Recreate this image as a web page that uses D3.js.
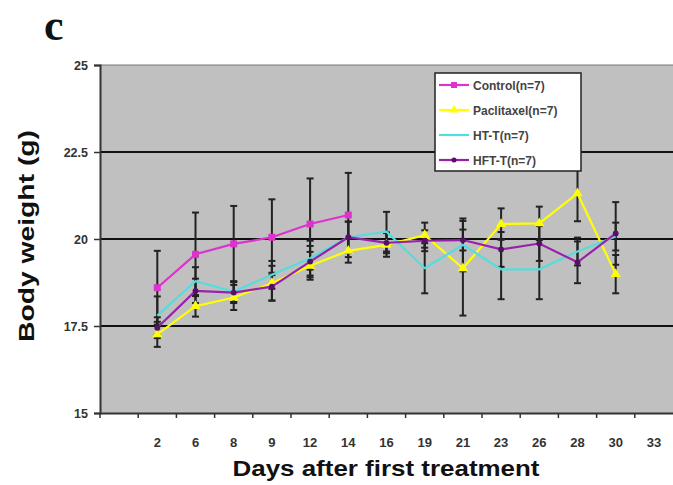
<!DOCTYPE html>
<html>
<head>
<meta charset="utf-8">
<script src="https://cdn.jsdelivr.net/npm/d3@7"></script>
<style>
  body { margin: 0; background: #fff; }
  svg { display: block; }
  .tick-label { font-family: "Liberation Sans", Arial, sans-serif; font-weight: bold; fill: #333; }
</style>
</head>
<body>
<div id="chart"></div>
<script>
// categories (first band is empty in the original)
const days = ['2','6','8','9','12','14','16','19','21','23','26','28','30','33'];
const yTicks = [15, 17.5, 20, 22.5, 25];

// means per day (null = no point)
const control    = [18.60, 19.56, 19.86, 20.05, 20.43, 20.69, null, null, null, null, null, null, null, null];
const paclitaxel = [17.26, 18.07, 18.32, 18.73, 19.23, 19.66, 19.83, 20.11, 19.16, 20.43, 20.45, 21.31, 18.99, null];
const htt        = [17.80, 18.79, 18.49, 18.97, 19.45, 20.05, 20.21, 19.16, 19.83, 19.13, 19.13, 19.64, 20.07, null];
const hftt       = [17.45, 18.51, 18.46, 18.63, 19.35, 20.05, 19.89, 19.95, 19.97, 19.70, 19.87, 19.33, 20.16, null];

// error (SD) per day
const controlSd    = [1.06, 1.20, 1.09, 1.09, 1.31, 1.21, null, null, null, null, null, null, null, null];
const paclitaxelSd = [0.36, 0.30, 0.36, 0.50, 0.40, 0.34, 0.34, 0.36, 1.36, 0.45, 0.48, 0.80, 0.55, null];
const httSd        = [0.55, 0.40, 0.30, 0.40, 0.50, 0.45, 0.57, 0.72, 0.76, 0.86, 0.86, 0.40, 0.40, null];
const hfttSd       = [0.30, 0.35, 0.30, 0.40, 0.45, 0.45, 0.30, 0.30, 0.30, 0.50, 0.50, 0.60, 0.90, null];

const series = [
  {name: 'Control(n=7)',    values: control,    sd: controlSd,    color: '#dd33cc', marker: 'square'},
  {name: 'Paclitaxel(n=7)', values: paclitaxel, sd: paclitaxelSd, color: '#ffff00', marker: 'triangle'},
  {name: 'HT-T(n=7)',       values: htt,        sd: httSd,        color: '#55dddd', marker: 'none'},
  {name: 'HFT-T(n=7)',      values: hftt,       sd: hfttSd,       color: '#9922aa', marker: 'dot'}
];

const W = 673, H = 485;
const margin = {t: 65, r: 0, b: 72, l: 100};
const w = W - margin.l - margin.r;
const h = H - margin.t - margin.b;

const svg = d3.select('#chart').append('svg')
  .attr('width', W)
  .attr('height', H);

const plot = svg.append('g')
  .attr('transform', `translate(${margin.l},${margin.t})`);

const scaleX = d3.scaleBand().domain([''].concat(days)).range([0, w]);
const scaleY = d3.scaleLinear().domain([15, 25]).range([h, 0]);

// plot background
plot.append('rect')
  .attr('width', w)
  .attr('height', h)
  .attr('fill', '#c0c0c0');

// gridlines
plot.selectAll('.grid')
  .data(yTicks.slice(1, -1))
  .enter().append('line')
  .attr('class', 'grid')
  .attr('x1', 0).attr('x2', w)
  .attr('y1', d => scaleY(d)).attr('y2', d => scaleY(d))
  .attr('stroke', '#111')
  .attr('stroke-width', 2);

plot.append('line')
  .attr('x1', 0).attr('x2', w)
  .attr('y1', 0).attr('y2', 0)
  .attr('stroke', '#777').attr('stroke-width', 1);

////////////////////////////////////////////////////////////////////

const axisY = d3.axisLeft(scaleY)
  .tickValues(yTicks)
  .tickSize(6)
  .tickPadding(6)
  .tickFormat(d => d);
const axisYNode = plot.append('g').attr('class', 'axis axis-y').call(axisY);
axisYNode.select('.domain').attr('stroke', '#333').attr('stroke-width', 2);
axisYNode.selectAll('.tick line').attr('stroke', '#333').attr('stroke-width', 1.5);
axisYNode.selectAll('.tick text')
  .attr('class', 'tick-label')
  .style('font-size', '12.5px');

////////////////////////////////////////////////////////////////////

const axisX = d3.axisBottom(scaleX)
  .tickSize(0)
  .tickPadding(25);
const axisXNode = plot.append('g')
  .attr('class', 'axis axis-x')
  .attr('transform', `translate(0,${h})`)
  .call(axisX);
axisXNode.select('.domain').attr('stroke', '#333').attr('stroke-width', 2);
axisXNode.selectAll('.tick text')
  .attr('class', 'tick-label')
  .style('font-size', '13px');

// ticks at band boundaries
axisXNode.selectAll('.bound')
  .data(scaleX.domain())
  .enter().append('line')
  .attr('class', 'bound')
  .attr('x1', d => scaleX(d)).attr('x2', d => scaleX(d))
  .attr('y1', 0).attr('y2', 5)
  .attr('stroke', '#333').attr('stroke-width', 1.5);

////////////////////////////////////////////////////////////////////

const cx = i => scaleX(days[i]) + scaleX.bandwidth() / 2;

// error bars
series.forEach(s => {
  const pts = s.values.map((v, i) => ({v, e: s.sd[i], i})).filter(d => d.v != null && d.e != null);
  const g = plot.append('g').attr('class', 'errbars');
  g.selectAll('.eb')
    .data(pts)
    .enter().append('line')
    .attr('x1', d => cx(d.i)).attr('x2', d => cx(d.i))
    .attr('y1', d => scaleY(d.v - d.e)).attr('y2', d => scaleY(d.v + d.e))
    .attr('stroke', '#222').attr('stroke-width', 2);
  ['lo', 'hi'].forEach(k => {
    g.selectAll('.cap-' + k)
      .data(pts)
      .enter().append('line')
      .attr('x1', d => cx(d.i) - 3.5).attr('x2', d => cx(d.i) + 3.5)
      .attr('y1', d => scaleY(k === 'lo' ? d.v - d.e : d.v + d.e))
      .attr('y2', d => scaleY(k === 'lo' ? d.v - d.e : d.v + d.e))
      .attr('stroke', '#222').attr('stroke-width', 2);
  });
});

// lines and markers
const line = d3.line()
  .defined(d => d.v != null)
  .x(d => cx(d.i))
  .y(d => scaleY(d.v));

function drawMarker(sel, type, color, size) {
  if (type === 'square') {
    sel.append('rect')
      .attr('x', -size / 2).attr('y', -size / 2)
      .attr('width', size).attr('height', size)
      .attr('fill', color);
  } else if (type === 'triangle') {
    sel.append('path')
      .attr('d', d3.symbol(d3.symbolTriangle, size * size * 0.9)())
      .attr('fill', color);
  } else if (type === 'dot') {
    sel.append('circle')
      .attr('r', size / 2.4)
      .attr('fill', '#551166');
  }
}

series.forEach(s => {
  const pts = s.values.map((v, i) => ({v, i}));
  plot.append('path')
    .datum(pts)
    .attr('d', line)
    .attr('fill', 'none')
    .attr('stroke', s.color)
    .attr('stroke-width', 2.2);
  const m = plot.selectAll(null)
    .data(pts.filter(d => d.v != null))
    .enter().append('g')
    .attr('transform', d => `translate(${cx(d.i)},${scaleY(d.v)})`);
  drawMarker(m, s.marker, s.color, 7);
});

////////////////////////////////////////////////////////////////////

// legend
const legend = svg.append('g').attr('transform', 'translate(435,73)');
legend.append('rect')
  .attr('width', 146).attr('height', 98)
  .attr('fill', '#fff')
  .attr('stroke', '#222').attr('stroke-width', 1.5);
const items = legend.selectAll('.item')
  .data(series)
  .enter().append('g')
  .attr('class', 'item')
  .attr('transform', (d, i) => `translate(0,${12 + i * 25})`);
items.append('line')
  .attr('x1', 4).attr('x2', 34)
  .attr('stroke', d => d.color).attr('stroke-width', 2.2);
items.each(function(d) {
  const g = d3.select(this).append('g').attr('transform', 'translate(19,0)');
  drawMarker(g, d.marker, d.color, 6);
});
items.append('text')
  .attr('x', 38).attr('y', 4.5)
  .attr('font-family', '"Liberation Sans", Arial, sans-serif')
  .attr('font-weight', 'bold')
  .attr('font-size', 12)
  .attr('fill', '#444')
  .text(d => d.name);

// titles
svg.append('text')
  .attr('x', 386).attr('y', 476)
  .attr('text-anchor', 'middle')
  .attr('font-family', '"Liberation Sans", Arial, sans-serif')
  .attr('font-weight', 'bold')
  .attr('font-size', 22)
  .attr('textLength', 307)
  .attr('lengthAdjust', 'spacingAndGlyphs')
  .attr('fill', '#111')
  .text('Days after first treatment');

svg.append('text')
  .attr('transform', 'translate(34,236) rotate(-90)')
  .attr('text-anchor', 'middle')
  .attr('font-family', '"Liberation Sans", Arial, sans-serif')
  .attr('font-weight', 'bold')
  .attr('font-size', 22)
  .attr('textLength', 212)
  .attr('lengthAdjust', 'spacingAndGlyphs')
  .attr('fill', '#111')
  .text('Body weight (g)');

svg.append('text')
  .attr('x', 44).attr('y', 40)
  .attr('font-family', '"Liberation Serif", "DejaVu Serif", serif')
  .attr('font-weight', 'bold')
  .attr('font-size', 44)
  .attr('fill', '#111')
  .text('c');
</script>
</body>
</html>
